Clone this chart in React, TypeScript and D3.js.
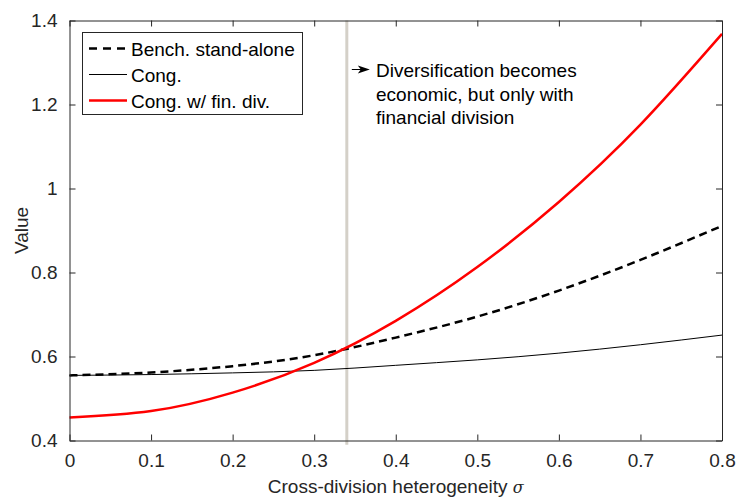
import React, { useEffect, useRef } from 'react';
import * as d3 from 'd3';

// sigma grid and values
const sigma = [0, 0.1, 0.2, 0.3, 0.4, 0.5, 0.6, 0.7, 0.8];
const benchStandAlone = [0.555, 0.562, 0.577, 0.603, 0.645, 0.695, 0.757, 0.83, 0.911];
const cong = [0.555, 0.557, 0.561, 0.567, 0.579, 0.592, 0.608, 0.628, 0.651];
const congFinDiv = [0.455, 0.47, 0.514, 0.585, 0.685, 0.813, 0.968, 1.152, 1.368];

const xTicks = [0, 0.1, 0.2, 0.3, 0.4, 0.5, 0.6, 0.7, 0.8];
const xTickLabels = ['0', '0.1', '0.2', '0.3', '0.4', '0.5', '0.6', '0.7', '0.8'];
const yTicks = [0.4, 0.6, 0.8, 1.0, 1.2, 1.4];
const yTickLabels = ['0.4', '0.6', '0.8', '1', '1.2', '1.4'];

const threshold = 0.34;
const legendLabels = ['Bench. stand-alone', 'Cong.', 'Cong. w/ fin. div.'];
const noteLines = ['Diversification becomes', 'economic, but only with', 'financial division'];

const W = 737, H = 498;
const FONT = '"Liberation Sans", Arial, Helvetica, sans-serif';
const AX = '#262626';

export default function App() {
  const ref = useRef<SVGSVGElement>(null);

  useEffect(() => {
    const svg = d3.select(ref.current);
    svg.selectAll('*').remove();

    const margin = { top: 20.5, right: 15, bottom: 57.5, left: 69.5 };
    const w = W - margin.left - margin.right;
    const h = H - margin.top - margin.bottom;

    const x = d3.scaleLinear().domain([0, 0.8]).range([0, w]);
    const y = d3.scaleLinear().domain([0.4, 1.4]).range([h, 0]);

    const g = svg.append('g').attr('transform', `translate(${margin.left},${margin.top})`);

    // vertical marker
    g.append('line')
      .attr('x1', x(threshold)).attr('x2', x(threshold))
      .attr('y1', y(1.4)).attr('y2', y(0.39))
      .attr('stroke', '#d4d0c8').attr('stroke-width', 3);

    const line = d3.line<number>()
      .x((d, i) => x(sigma[i]))
      .y(d => y(d))
      .curve(d3.curveNatural);

    g.append('path').datum(cong).attr('d', line)
      .attr('fill', 'none').attr('stroke', '#000').attr('stroke-width', 1);
    g.append('path').datum(benchStandAlone).attr('d', line)
      .attr('fill', 'none').attr('stroke', '#000').attr('stroke-width', 2.5)
      .attr('stroke-dasharray', '8,5');
    g.append('path').datum(congFinDiv).attr('d', line)
      .attr('fill', 'none').attr('stroke', '#ff0000').attr('stroke-width', 2.5);

    // axes (box with inward ticks)
    const styleAxis = (sel: any) => {
      sel.select('.domain').attr('stroke', AX);
      sel.selectAll('.tick line').attr('stroke', AX);
      sel.selectAll('text').attr('fill', AX).style('font-family', FONT).style('font-size', '19px');
    };

    g.append('g').attr('transform', `translate(0,${h})`)
      .call(d3.axisBottom(x).tickValues(xTicks).tickSizeInner(-6).tickSizeOuter(0).tickPadding(13)
        .tickFormat((d, i) => xTickLabels[i]))
      .call(styleAxis);
    g.append('g')
      .call(d3.axisTop(x).tickValues(xTicks).tickSizeInner(-6).tickSizeOuter(0).tickFormat(() => ''))
      .call(styleAxis);
    g.append('g')
      .call(d3.axisLeft(y).tickValues(yTicks).tickSizeInner(-6).tickSizeOuter(0).tickPadding(12)
        .tickFormat((d, i) => yTickLabels[i]))
      .call(styleAxis);
    g.append('g').attr('transform', `translate(${w},0)`)
      .call(d3.axisRight(y).tickValues(yTicks).tickSizeInner(-6).tickSizeOuter(0).tickFormat(() => ''))
      .call(styleAxis);

    // axis titles
    const xt = svg.append('text')
      .attr('x', margin.left + w / 2).attr('y', 493)
      .attr('text-anchor', 'middle')
      .attr('fill', AX).style('font-family', FONT).style('font-size', '19px');
    xt.append('tspan').text('Cross-division heterogeneity ');
    xt.append('tspan').text('σ').style('font-family', '"DejaVu Serif", serif').style('font-style', 'italic').style('font-size', '16px');

    svg.append('text')
      .attr('transform', `translate(28,${margin.top + h / 2}) rotate(-90)`)
      .attr('text-anchor', 'middle')
      .attr('fill', AX).style('font-family', FONT).style('font-size', '19px')
      .text('Value');

    // legend
    const lg = svg.append('g');
    lg.append('rect').attr('x', 82.5).attr('y', 32.5).attr('width', 220).attr('height', 82)
      .attr('fill', '#fff').attr('stroke', AX).attr('stroke-width', 1);
    const legendStyles = [
      { stroke: '#000', width: 2.5, dash: '8,6' },
      { stroke: '#000', width: 1, dash: null },
      { stroke: '#ff0000', width: 2.5, dash: null },
    ];
    legendLabels.forEach((lab, i) => {
      const cy = 48.5 + i * 26;
      const s = legendStyles[i];
      lg.append('line').attr('x1', 89).attr('x2', 127).attr('y1', cy).attr('y2', cy)
        .attr('stroke', s.stroke).attr('stroke-width', s.width)
        .attr('stroke-dasharray', s.dash);
      lg.append('text').attr('x', 131).attr('y', cy + 7)
        .attr('fill', '#000').style('font-family', FONT).style('font-size', '19px')
        .text(lab);
    });

    // annotation arrow + text
    const ay = 69.5;
    const ax0 = margin.left + x(threshold) + 5;
    svg.append('line').attr('x1', ax0).attr('x2', ax0 + 14).attr('y1', ay).attr('y2', ay)
      .attr('stroke', '#000').attr('stroke-width', 1);
    svg.append('path')
      .attr('d', `M${ax0 + 18},${ay} L${ax0 + 6},${ay - 4} L${ax0 + 9},${ay} L${ax0 + 6},${ay + 4} Z`)
      .attr('fill', '#000');
    noteLines.forEach((t, i) => {
      svg.append('text').attr('x', 376).attr('y', 77 + i * 23.5)
        .attr('fill', '#000').style('font-family', FONT).style('font-size', '19px')
        .text(t);
    });
  }, []);

  return (
    <svg ref={ref} width={W} height={H}
      style={{ position: 'absolute', left: 0, top: 0, background: '#fff' }} />
  );
}
